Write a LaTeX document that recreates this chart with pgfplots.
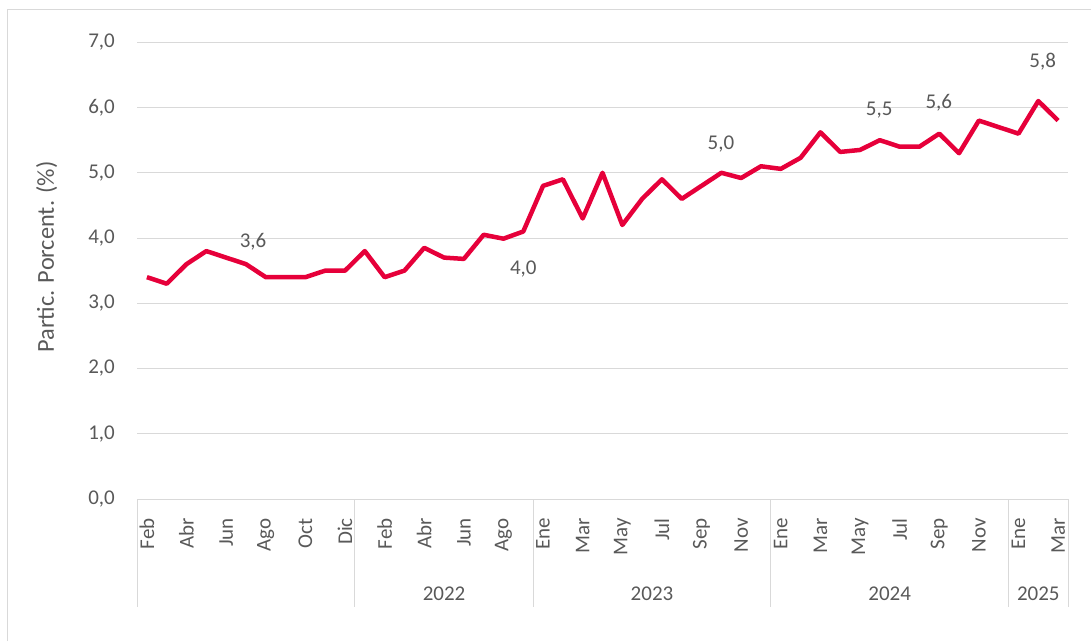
\documentclass[border=0pt]{standalone}
\usepackage{fontspec}
\setmainfont{Carlito}
\usepackage{pgfplots}
\pgfplotsset{compat=1.18}
\definecolor{linered}{HTML}{E6003A}
\definecolor{gridgray}{HTML}{D9D9D9}
\definecolor{textgray}{HTML}{595959}

\begin{document}
\begin{tikzpicture}[x=1pt,y=1pt]
  \useasboundingbox (0,0) rectangle (1091,641);
  % chart area border (top and left only, rest is cropped)
  \draw[gridgray, line width=1pt] (7,0) -- (7,631) -- (1091,631);
  \begin{axis}[
      at={(137pt,142pt)}, anchor=south west,
      width=931pt, height=456.7pt, scale only axis,
      xmin=-0.5, xmax=46.5, ymin=0, ymax=7,
      clip=false,
      axis line style={draw=none},
      major tick length=0pt,
      ytick={0,1,...,7},
      ymajorgrids, grid style={gridgray, line width=1pt},
      xtick={0,2,4,6,8,10,12,14,16,18,20,22,24,26,28,30,32,34,36,38,40,42,44,46},
      xticklabels={Feb,Abr,Jun,Ago,Oct,Dic,Feb,Abr,Jun,Ago,Ene,Mar,May,Jul,Sep,Nov,Ene,Mar,May,Jul,Sep,Nov,Ene,Mar},
      tick label style={font=\fontsize{21}{25}\selectfont, text=textgray},
      xticklabel style={yshift=-19pt, rotate=90, anchor=east, inner sep=0pt},
      yticklabel style={anchor=east, inner sep=0pt, xshift=-22pt},
      /pgf/number format/.cd, fixed, fixed zerofill, precision=1, use comma, assume math mode=true,
      /pgfplots/.cd,
      ylabel={Partic. Porcent. (\%)},
      ylabel style={at={(axis description cs:-0.097,0.53)}, anchor=center,
        font=\fontsize{24.3}{28}\selectfont, text=textgray},
    ]
    \addplot[linered, line width=4.5pt, line join=round] coordinates {
      (0,3.4)(1,3.3)(2,3.6)(3,3.8)(4,3.7)(5,3.6)(6,3.4)(7,3.4)(8,3.4)(9,3.5)(10,3.5)
      (11,3.8)(12,3.4)(13,3.5)(14,3.85)(15,3.7)(16,3.68)(17,4.05)(18,3.99)(19,4.1)
      (20,4.8)(21,4.9)(22,4.3)(23,5.0)(24,4.2)(25,4.6)(26,4.9)(27,4.6)(28,4.8)(29,5.0)(30,4.92)(31,5.1)
      (32,5.06)(33,5.23)(34,5.62)(35,5.32)(36,5.35)(37,5.5)(38,5.4)(39,5.4)(40,5.6)(41,5.3)(42,5.8)(43,5.7)
      (44,5.6)(45,6.1)(46,5.8)
    };
    % data labels
    \begin{scope}[every node/.style={font=\fontsize{21}{25}\selectfont, text=textgray}]
      \node at (axis cs:5.36,3.95) {3,6};
      \node at (axis cs:19.0,3.52) {4,0};
      \node at (axis cs:28.98,5.44) {5,0};
      \node at (axis cs:36.97,5.96) {5,5};
      \node at (axis cs:39.98,6.07) {5,6};
      \node at (axis cs:45.22,6.70) {5,8};
    \end{scope}
    % multi-level category axis separators
    \draw[gridgray, line width=1pt] (axis cs:-0.5,0) -- ([yshift=-108pt]axis cs:-0.5,0);
    \draw[gridgray, line width=1pt] (axis cs:10.5,0) -- ([yshift=-108pt]axis cs:10.5,0);
    \draw[gridgray, line width=1pt] (axis cs:19.5,0) -- ([yshift=-108pt]axis cs:19.5,0);
    \draw[gridgray, line width=1pt] (axis cs:31.5,0) -- ([yshift=-108pt]axis cs:31.5,0);
    \draw[gridgray, line width=1pt] (axis cs:43.5,0) -- ([yshift=-108pt]axis cs:43.5,0);
    \draw[gridgray, line width=1pt] (axis cs:46.5,0) -- ([yshift=-108pt]axis cs:46.5,0);
    \begin{scope}[every node/.style={font=\fontsize{21}{25}\selectfont, text=textgray}]
      \node at ([yshift=-95pt]axis cs:15,0) {2022};
      \node at ([yshift=-95pt]axis cs:25.5,0) {2023};
      \node at ([yshift=-95pt]axis cs:37.5,0) {2024};
      \node at ([yshift=-95pt]axis cs:45,0) {2025};
    \end{scope}
  \end{axis}
\end{tikzpicture}
\end{document}
